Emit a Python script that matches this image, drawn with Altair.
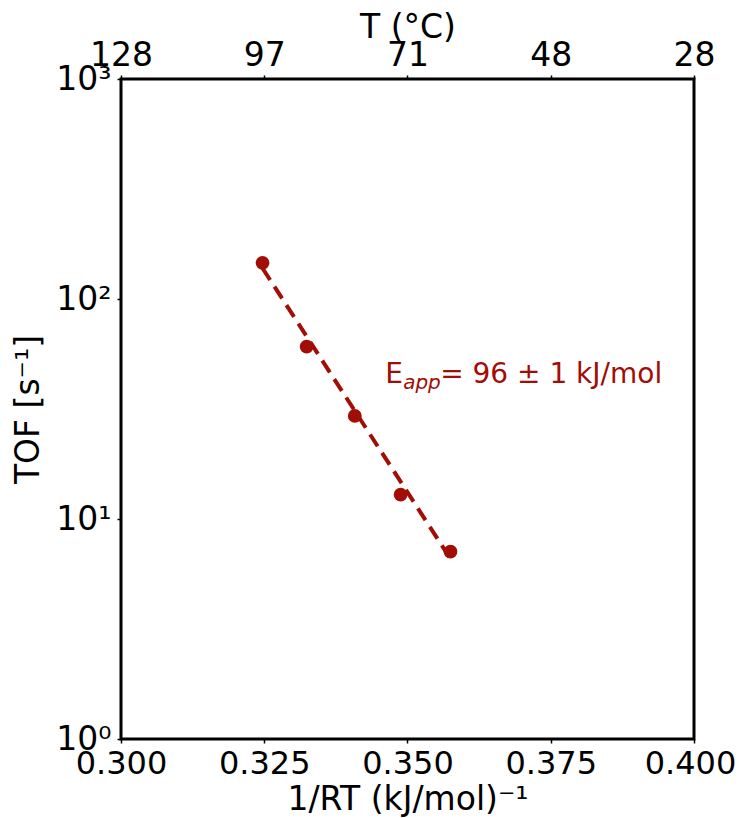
import altair as alt
import pandas as pd

# data
inv_rt = [0.3247, 0.3324, 0.3408, 0.3488, 0.3575]
tof = [146.0, 60.7, 29.4, 12.9, 7.1]
fit_x = [0.3247, 0.3575]
fit_y = [138.0, 6.6]
x_ticks = [0.300, 0.325, 0.350, 0.375, 0.400]
top_labels = ["128", "97", "71", "48", "28"]
y_ticks = [1, 10, 100, 1000]
y_labels = ["10⁰", "10¹", "10²", "10³"]

RED = "#a20d05"
FONT = "DejaVu Sans"

pts = pd.DataFrame({"x": inv_rt, "y": tof})
fit = pd.DataFrame({"x": fit_x, "y": fit_y})
ann = pd.DataFrame({"x": [0.3461], "y": [41.5]})

top_expr = " : ".join(
    f"round(datum.value*1000)=={round(v*1000)} ? '{l}'" for v, l in zip(x_ticks, top_labels)
) + " : ''"
y_expr = " : ".join(
    f"datum.value=={v} ? '{l}'" for v, l in zip(y_ticks, y_labels)
) + " : ''"

xscale = alt.Scale(domain=[0.3, 0.4], nice=False, zero=False)
yscale = alt.Scale(type="log", domain=[1, 1000], nice=False)

common = dict(titleFontSize=33, tickSize=4, grid=False, domain=False,
              labelFlush=False, labelFont=FONT, titleFont=FONT, titleFontWeight="normal",
              labelColor="black", titleColor="black", tickColor="black", tickWidth=1.5)

x_bottom = alt.X("x:Q", scale=xscale, title="1/RT (kJ/mol)⁻¹",
                 axis=alt.Axis(values=x_ticks, format=".3f", orient="bottom",
                               labelFontSize=32, labelPadding=5, titleY=70,
                               labelOffset={"condition": {"test": "datum.value >= 0.399",
                                                          "value": -4},
                                            "value": 0},
                               titleBaseline="alphabetic", **common))
x_top = alt.X("x:Q", scale=xscale, title="T (°C)",
              axis=alt.Axis(values=x_ticks, labelExpr=top_expr, orient="top",
                            labelFontSize=33, labelPadding=3, titleY=-42,
                            titleBaseline="alphabetic", **common))
x_plain = alt.X("x:Q", scale=xscale, axis=None)
y_enc = alt.Y("y:Q", scale=yscale, title="TOF [s⁻¹]",
              axis=alt.Axis(values=y_ticks, labelExpr=y_expr, labelFontSize=33,
                            labelPadding=6, titlePadding=10, labelBaseline="middle",
                            **common))
y_plain = alt.Y("y:Q", scale=yscale)

line = alt.Chart(fit).mark_line(color=RED, strokeWidth=4, strokeDash=[14, 8]).encode(
    x=x_bottom, y=y_enc)
points = alt.Chart(pts).mark_circle(color=RED, size=190, opacity=1).encode(
    x=x_plain, y=y_plain)

base_ann = alt.Chart(ann)
t1 = base_ann.mark_text(text="E", font=FONT, fontSize=28, color=RED, align="left",
                        baseline="alphabetic").encode(x=x_top, y=y_plain)
t2 = base_ann.mark_text(text="app", font=FONT, fontSize=20, fontStyle="italic", color=RED,
                        align="left", baseline="alphabetic", dx=18, dy=6).encode(
    x=x_plain, y=y_plain)
t3 = base_ann.mark_text(text="= 96 ± 1 kJ/mol", font=FONT, fontSize=28, color=RED,
                        align="left", baseline="alphabetic", dx=55).encode(
    x=x_plain, y=y_plain)

chart = alt.layer(line, points, t1, t2, t3).resolve_axis(x="independent").properties(
    width=573, height=660,
    autosize=alt.AutoSizeParams(type="none"),
    padding={"left": 113, "top": 71, "right": 43, "bottom": 79},
    background="white",
).configure_view(stroke="black", strokeWidth=3)

chart.save("out.html", embed_options={"renderer": "svg", "actions": False})
